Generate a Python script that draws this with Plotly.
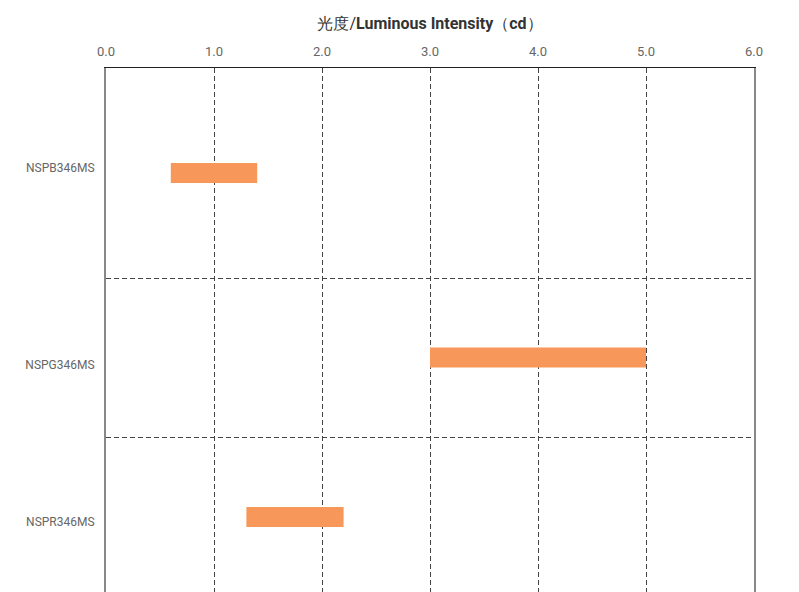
import plotly.graph_objects as go
import numpy as np

# ---- data ----
products = ["NSPB346MS", "NSPG346MS", "NSPR346MS"]
intensity_min = [0.6, 3.0, 1.3]
intensity_max = [1.4, 5.0, 2.2]
x_ticks = [0, 1, 2, 3, 4, 5, 6]
x_tick_labels = ["0.0", "1.0", "2.0", "3.0", "4.0", "5.0", "6.0"]
title_text = "光度/<b>Luminous Intensity</b>（<b>cd</b>）"

# ---- layout constants ----
row_heights = [210, 159, 160]
label_shift = [-5, 7, 5]
visible_span = 524
edges = np.concatenate([[0], np.cumsum(row_heights)])
centers = (edges[:-1] + edges[1:]) / 2
label_pos = centers + np.array(label_shift)

FONT = "Liberation Sans Narrow, Roboto, Arial, sans-serif"

fig = go.Figure()
fig.add_trace(go.Bar(
    y=centers,
    x=[hi - lo for lo, hi in zip(intensity_min, intensity_max)],
    base=intensity_min,
    orientation="h",
    width=20,
    marker=dict(color="#F7975A", line=dict(width=0)),
    hoverinfo="skip",
    showlegend=False,
))
# invisible trace to activate yaxis2 (row-boundary grid)
fig.add_trace(go.Scatter(x=[None], y=[None], yaxis="y2", showlegend=False))

fig.update_layout(
    width=791, height=584,
    margin=dict(l=98, r=45, t=60, b=0),
    paper_bgcolor="white", plot_bgcolor="white",
    font=dict(family=FONT, size=12, color="#666"),
    xaxis=dict(
        side="top", range=[0, 6], automargin=False,
        tickvals=x_ticks, ticktext=x_tick_labels,
        showgrid=True, gridcolor="#444", griddash="5px,3px", gridwidth=1,
        showline=True, linecolor="#222", linewidth=1,
        zeroline=False, ticks="", ticklabelstandoff=6,
        tickfont=dict(size=13, color="#666"),
        title=dict(text=title_text, font=dict(size=16, color="#333"), standoff=10),
    ),
    yaxis=dict(
        range=[visible_span, 0], automargin=False,
        tickvals=label_pos, ticktext=products,
        showgrid=False, zeroline=False,
        showline=True, linecolor="#888", linewidth=2, mirror=True,
        ticks="", ticklabelstandoff=7,
        tickfont=dict(size=12, color="#666"),
    ),
    yaxis2=dict(
        overlaying="y", range=[visible_span, 0], automargin=False,
        tickvals=edges[1:-1], showticklabels=False,
        showgrid=True, gridcolor="#444", griddash="5px,3px", gridwidth=1,
        zeroline=False, showline=False, ticks="",
    ),
)

fig.write_html("out.html")
